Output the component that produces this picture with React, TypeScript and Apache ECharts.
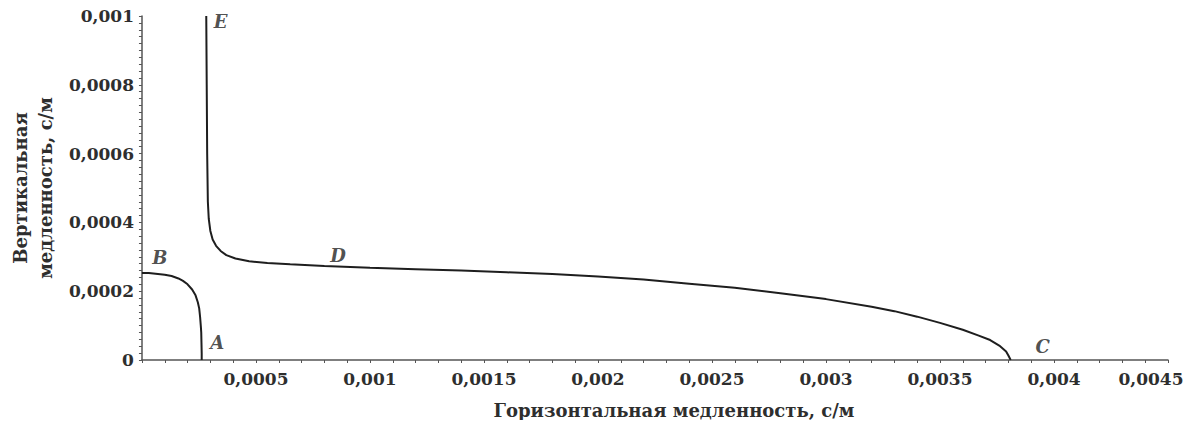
import React, { useEffect, useRef } from "react";
import * as echarts from "echarts";

const curveBA: [number, number][] = [
  [0, 0.000253], [0.00003, 0.000253], [0.00006, 0.000251], [0.0001, 0.000248],
  [0.00013, 0.000244], [0.00016, 0.000237], [0.00018, 0.00023], [0.0002, 0.00022],
  [0.00022, 0.000205], [0.000235, 0.000188], [0.000245, 0.000168], [0.000251, 0.00015],
  [0.000255, 0.000125], [0.000258, 0.0001], [0.00026, 0.00008], [0.000261, 0.00005],
  [0.000262, 0.00002], [0.000262, 0],
];

const curveEDC: [number, number][] = [
  [0.000282, 0.001], [0.000284, 0.0008], [0.000286, 0.0006], [0.000289, 0.00046],
  [0.000293, 0.00041], [0.0003, 0.000375], [0.00031, 0.00035], [0.000325, 0.000332],
  [0.000345, 0.000317], [0.00037, 0.000305], [0.00041, 0.000295], [0.00047, 0.000287],
  [0.00055, 0.000282], [0.00065, 0.000278], [0.0008, 0.000273], [0.001, 0.000268],
  [0.0012, 0.000264], [0.0014, 0.00026], [0.0016, 0.000255], [0.0018, 0.00025],
  [0.002, 0.000243], [0.0022, 0.000234], [0.0024, 0.000222], [0.0026, 0.00021],
  [0.0028, 0.000194], [0.003, 0.000177], [0.0032, 0.000155], [0.0033, 0.000142],
  [0.0034, 0.000126], [0.0035, 0.000108], [0.0036, 0.000088], [0.00367, 0.000071],
  [0.00372, 0.000058], [0.00376, 0.000042], [0.00379, 0.000025], [0.0038, 0.000013],
  [0.00381, 0],
];

const pointLabels: [number, number, string][] = [
  [0.000078, 0.000298, "B"],
  [0.00033, 0.00005, "A"],
  [0.00395, 0.000038, "C"],
  [0.00086, 0.000305, "D"],
  [0.000345, 0.000983, "E"],
];

const xTitle = "Горизонтальная медленность, с/м";
const yTitle = "Вертикальная\nмедленность, с/м";

const FONT = "DejaVu Serif";
const TEXT = "#2e2e2e";

function fmt(v: number): string {
  return String(+v.toFixed(6)).replace(".", ",");
}

export default function App() {
  const ref = useRef<HTMLDivElement>(null);
  useEffect(() => {
    if (!ref.current) return;
    const chart = echarts.init(ref.current, undefined, { renderer: "svg" });
    chart.setOption({
      animation: false,
      backgroundColor: "#ffffff",
      grid: { left: 135, right: 24, top: 16, bottom: 68, containLabel: false },
      xAxis: {
        type: "value",
        min: 0,
        max: 0.0045,
        interval: 0.0005,
        name: xTitle,
        nameLocation: "middle",
        nameGap: 41,
        nameTextStyle: {
          fontFamily: FONT, fontWeight: "bold", fontSize: 18, color: TEXT,
          padding: [0, 0, 0, 38],
        },
        axisLine: { lineStyle: { color: "#555", width: 1.5 } },
        axisTick: { show: true, length: 3, lineStyle: { color: "#555" } },
        minorTick: { show: true, splitNumber: 5, length: 3, lineStyle: { color: "#555" } },
        splitLine: { show: false },
        axisLabel: {
          showMinLabel: false,
          margin: 10,
          fontFamily: FONT, fontWeight: "bold", fontSize: 17, color: TEXT,
          formatter: (v: number) => (Math.abs(v - 0.0045) < 1e-9 ? "{last|" + fmt(v) + "}" : fmt(v)),
          rich: {
            last: { fontFamily: FONT, fontWeight: "bold", fontSize: 17, color: TEXT, padding: [0, 34, 0, 0] },
          },
        },
      },
      yAxis: {
        type: "value",
        min: 0,
        max: 0.001,
        interval: 0.0002,
        name: yTitle,
        nameLocation: "middle",
        nameGap: 80,
        nameTextStyle: {
          fontFamily: FONT, fontWeight: "bold", fontSize: 18, color: TEXT, lineHeight: 25,
        },
        axisLine: { show: true, lineStyle: { color: "#555", width: 1.5 } },
        axisTick: { show: true, length: 3, lineStyle: { color: "#555" } },
        minorTick: { show: true, splitNumber: 10, length: 3, lineStyle: { color: "#555" } },
        splitLine: { show: false },
        axisLabel: {
          margin: 8,
          fontFamily: FONT, fontWeight: "bold", fontSize: 17, color: TEXT,
          formatter: (v: number) => fmt(v),
        },
      },
      series: [
        {
          type: "line", data: curveBA, showSymbol: false, symbol: "none",
          lineStyle: { color: "#1e1e1e", width: 2 },
        },
        {
          type: "line", data: curveEDC, showSymbol: false, symbol: "none",
          lineStyle: { color: "#1e1e1e", width: 2 },
        },
        {
          type: "scatter", data: pointLabels, symbolSize: 0,
          label: {
            show: true, position: "inside",
            formatter: (p: any) => p.data[2],
            fontFamily: FONT, fontWeight: "bold", fontStyle: "italic", fontSize: 18, color: "#222",
          },
        },
      ],
    });
    return () => chart.dispose();
  }, []);
  return <div ref={ref} style={{ width: 1192, height: 428, margin: -8 }} />;
}
